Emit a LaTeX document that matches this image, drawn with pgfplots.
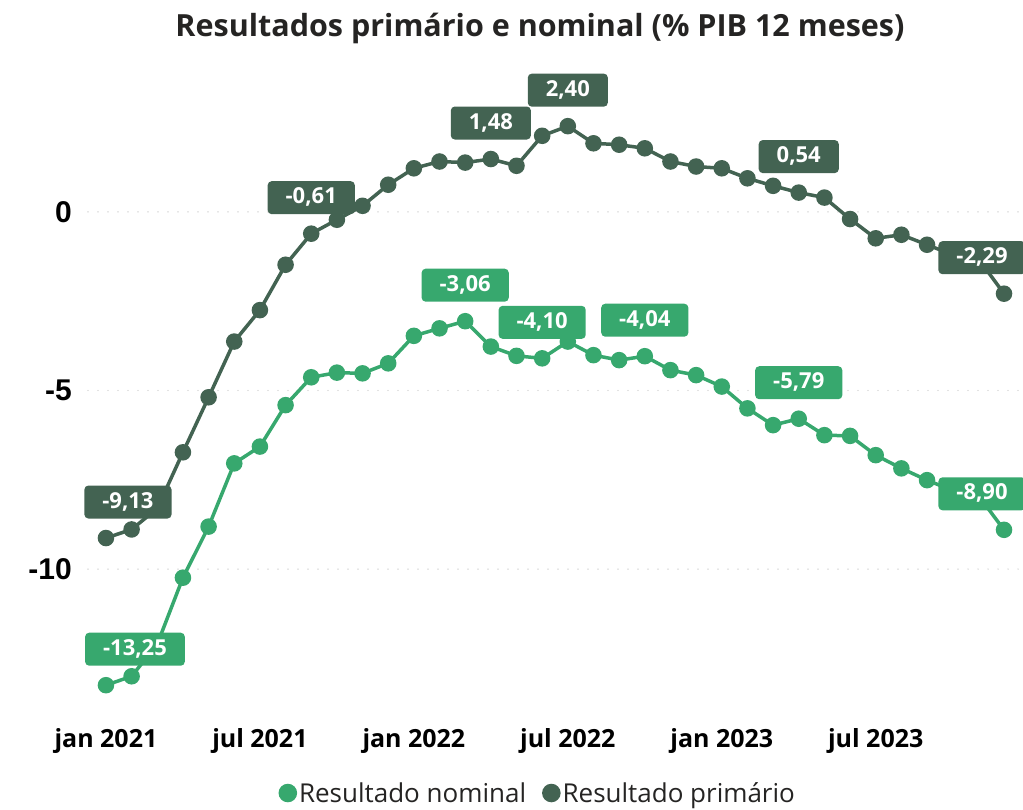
\documentclass[border=0pt]{standalone}
\usepackage{fontspec}
\setmainfont{Open Sans}
\newfontfamily\arialfont{Liberation Sans}
\usepackage{pgfplots}
\usepackage{pgfplotstable}
\pgfplotsset{compat=1.18}

\definecolor{nominal}{HTML}{37A86E}
\definecolor{primario}{HTML}{436352}
\definecolor{txtgray}{HTML}{252423}

% resultado primario, % PIB 12 meses, jan 2021 = 0
\pgfplotstableread{
x y
0 -9.13
1 -8.89
2 -8.30
3 -6.73
4 -5.19
5 -3.63
6 -2.75
7 -1.48
8 -0.61
9 -0.22
10 0.17
11 0.76
12 1.22
13 1.41
14 1.38
15 1.48
16 1.29
17 2.13
18 2.40
19 1.92
20 1.88
21 1.78
22 1.41
23 1.27
24 1.22
25 0.94
26 0.73
27 0.54
28 0.40
29 -0.20
30 -0.74
31 -0.64
32 -0.92
33 -1.20
34 -1.31
35 -2.29
}\primariotab

% resultado nominal
\pgfplotstableread{
x y
0 -13.25
1 -13.00
2 -12.10
3 -10.24
4 -8.81
5 -7.04
6 -6.57
7 -5.41
8 -4.63
9 -4.50
10 -4.52
11 -4.24
12 -3.47
13 -3.26
14 -3.06
15 -3.77
16 -4.03
17 -4.10
18 -3.63
19 -4.01
20 -4.15
21 -4.04
22 -4.43
23 -4.57
24 -4.89
25 -5.50
26 -5.97
27 -5.79
28 -6.25
29 -6.27
30 -6.81
31 -7.18
32 -7.51
33 -7.80
34 -7.94
35 -8.90
}\nominaltab

% labelled points
\pgfplotstableread{
x y lab dx
0 -9.13 -9,13 22
8 -0.61 -0,61 0
15 1.48 1,48 0
18 2.40 2,40 0
27 0.54 0,54 0
35 -2.29 -2,29 -22
}\primariolab

\pgfplotstableread{
x y lab dx
0 -13.25 -13,25 29
14 -3.06 -3,06 0
17 -4.10 -4,10 0
21 -4.04 -4,04 0
27 -5.79 -5,79 0
35 -8.90 -8,90 -22
}\nominallab

\pgfplotsset{
  datalabel/.style={
    forget plot, draw=none, mark=none,
    nodes near coords, point meta=explicit symbolic,
    visualization depends on={\thisrow{dx}\as\dx},
    nodes near coords style={
      font=\fontsize{22}{22}\selectfont\bfseries, text=white, fill=#1,
      rounded corners=4pt, inner xsep=18pt, inner ysep=0pt,
      minimum height=33pt, text height=15pt, text depth=3pt,
      anchor=center, yshift=36pt, xshift=\dx pt},
  },
}

\begin{document}
\begin{tikzpicture}
\path[use as bounding box] (0,0) rectangle (1023pt,809pt);
\node[font=\fontsize{30.5}{30.5}\selectfont\bfseries, text=txtgray] at (540pt,781pt)
  {Resultados primário e nominal (\% PIB 12 meses)};
\begin{axis}[
  at={(88pt,97pt)}, anchor=south west,
  width=935pt, height=643pt, scale only axis,
  xmin=-0.70, xmax=35.74, ymin=-14, ymax=4,
  clip=false,
  axis line style={draw=none}, tick style={draw=none},
  ytick={-10,-5,0}, yticklabels={-10,-5,0},
  yticklabel style={font=\fontsize{30}{30}\arialfont\bfseries, text=black,
    anchor=east, inner sep=0pt, xshift=-16pt},
  xtick={0,6,12,18,24,30},
  xticklabels={jan 2021,jul 2021,jan 2022,jul 2022,jan 2023,jul 2023},
  xticklabel style={font=\fontsize{25}{25}\selectfont\bfseries, text=black,
    anchor=center, inner sep=0pt, yshift=-29pt},
  ymajorgrids,
  grid style={line width=1.3pt, black!22, dash pattern=on 0pt off 10pt, line cap=round},
  legend columns=2,
  legend style={at={(0.481,-0.126)}, anchor=center, draw=none, fill=none,
    font=\fontsize{26}{26}\selectfont, text=txtgray,
    /tikz/every even column/.append style={column sep=14pt}},
  legend image code/.code={\fill (3pt,0pt) circle (7.5pt);},
]
\addplot[color=nominal, line width=3.5pt, mark=*, mark size=6.5pt] table[x=x,y=y] {\nominaltab};
\addlegendentry{Resultado nominal}
\addplot[color=primario, line width=3.5pt, mark=*, mark size=6.5pt] table[x=x,y=y] {\primariotab};
\addlegendentry{Resultado primário}
\addplot[datalabel=primario] table[x=x,y=y,meta=lab] {\primariolab};
\addplot[datalabel=nominal] table[x=x,y=y,meta=lab] {\nominallab};
\end{axis}
\end{tikzpicture}
\end{document}
